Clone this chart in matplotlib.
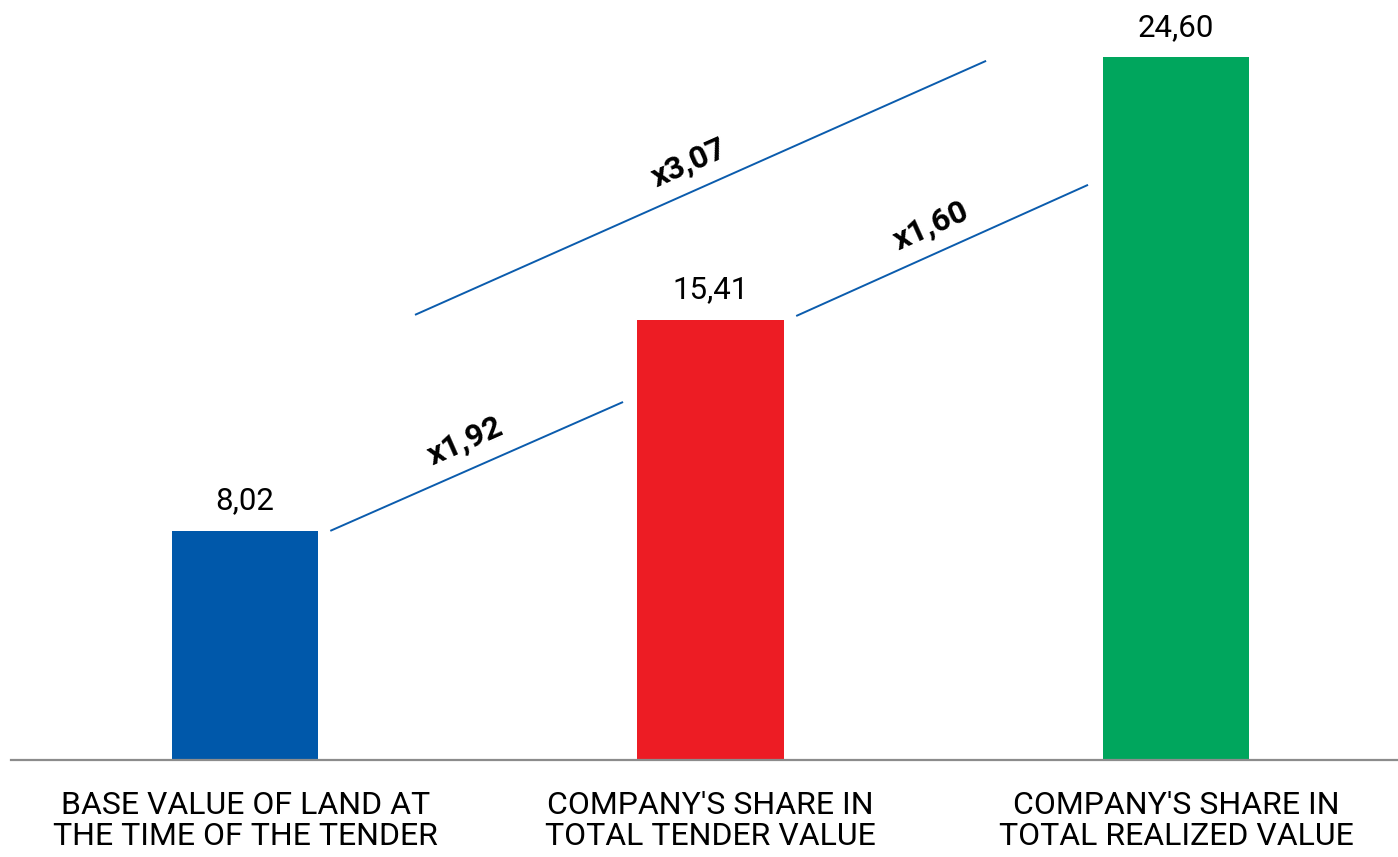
import numpy as np
import matplotlib
matplotlib.use("Agg")
import matplotlib.pyplot as plt

plt.rcParams["font.family"] = ["Roboto", "DejaVu Sans"]

categories = [
    "BASE VALUE OF LAND AT\nTHE TIME OF THE TENDER",
    "COMPANY'S SHARE IN\nTOTAL TENDER VALUE",
    "COMPANY'S SHARE IN\nTOTAL REALIZED VALUE",
]
values = [8.02, 15.41, 24.60]
colors = ["#0058AA", "#ED1C24", "#00A65D"]

# growth connectors: (from bar, to bar), drawn as sloped lines between bars
pairs = [(0, 1), (1, 2), (0, 2)]
seg_x0 = [0.183, 1.184, 0.365]
seg_y0 = [8.02, 15.54, 15.58]
seg_x1 = [0.812, 1.811, 1.592]
seg_y1 = [12.53, 20.13, 24.47]

W, H = 1398, 857
fig = plt.figure(figsize=(W / 100, H / 100), dpi=100)
ax = fig.add_axes([11 / W, 97 / H, (W - 11) / W, 760 / H])

x = np.arange(len(values))
ax.bar(x, values, width=0.314, color=colors, zorder=2)
ax.set_xlim(-0.503, 2.477)
ax.set_ylim(0, 26.6)

for xi, v in zip(x, values):
    ax.annotate(f"{v:.2f}".replace(".", ","), (xi, v), xytext=(0, 11),
                textcoords="offset points", ha="center", va="bottom",
                fontsize=22.5)

for (a, b), x0, y0, x1, y1 in zip(pairs, seg_x0, seg_y0, seg_x1, seg_y1):
    ax.plot([x0, x1], [y0, y1], color="#0B5CAD", lw=1.4, solid_capstyle="butt")
    p0 = ax.transData.transform((x0, y0))
    p1 = ax.transData.transform((x1, y1))
    ang = np.degrees(np.arctan2(p1[1] - p0[1], p1[0] - p0[0]))
    r = np.radians(ang)
    d = 20
    label = "x" + f"{values[b] / values[a]:.2f}".replace(".", ",")
    ax.annotate(label, ((x0 + x1) / 2, (y0 + y1) / 2),
                xytext=(-np.sin(r) * d, np.cos(r) * d), textcoords="offset points",
                ha="center", va="center", rotation=ang, rotation_mode="anchor",
                fontsize=23, fontweight="bold")

ax.set_xticks(x, categories)
ax.tick_params(axis="x", length=0, pad=22, labelsize=23)
for lbl in ax.get_xticklabels():
    lbl.set_linespacing(1.12)
ax.set_yticks([])
for s in ["top", "right", "left"]:
    ax.spines[s].set_visible(False)
ax.spines["bottom"].set_color("#8C8C8C")
ax.spines["bottom"].set_linewidth(1.6)

fig.savefig("out.png", dpi=100)
